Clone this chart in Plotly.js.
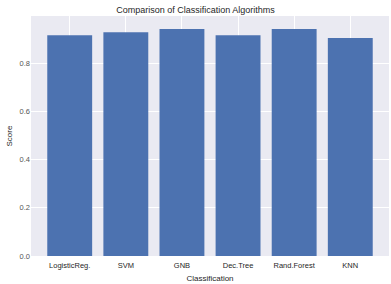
<!DOCTYPE html>
<html><head><meta charset="utf-8">
<script src="https://cdn.plot.ly/plotly-3.0.1.min.js"></script>
<style>html,body{margin:0;padding:0;background:#fff}#c{width:391px;height:284px}</style>
</head><body><div id="c"></div>
<script>
const categories = ["LogisticReg.", "SVM", "GNB", "Dec.Tree", "Rand.Forest", "KNN"];
const scores = [0.915, 0.928, 0.941, 0.915, 0.941, 0.904];
const yTicks = [0.0, 0.2, 0.4, 0.6, 0.8];
const yTickText = ["0.0", "0.2", "0.4", "0.6", "0.8"];

const font = {family: "Liberation Sans, Arial, sans-serif", color: "#262626"};
Plotly.newPlot("c", [{
  type: "bar", x: categories.map((_, i) => i), y: scores, width: 0.8,
  marker: {color: "#4C72B0", line: {width: 0}}, hoverinfo: "none"
}], {
  width: 391, height: 284,
  margin: {l: 31, r: 2, t: 16, b: 28, pad: 0},
  paper_bgcolor: "#ffffff", plot_bgcolor: "#EAEAF2",
  font: Object.assign({size: 8}, font),
  title: {text: "Comparison of Classification Algorithms", font: Object.assign({size: 9}, font), x: 0.5, xanchor: "center", y: 0.975, yanchor: "top", yref: "container"},
  xaxis: {range: [-0.69, 5.69], tickvals: categories.map((_, i) => i), ticktext: categories,
    showgrid: true, gridcolor: "#ffffff", gridwidth: 1, zeroline: false, showline: false,
    ticks: "", ticklabelstandoff: 3, tickfont: Object.assign({size: 7.5}, font),
    title: {text: "Classification", font: Object.assign({size: 8}, font), standoff: 6}},
  yaxis: {range: [0, 0.995], tickvals: yTicks, ticktext: yTickText,
    showgrid: true, gridcolor: "#ffffff", gridwidth: 1, zeroline: false, showline: false,
    ticks: "", ticklen: 0, tickfont: Object.assign({size: 7.5, color: "#555"}, {family: font.family}),
    title: {text: "Score", font: Object.assign({size: 8}, font), standoff: 5}},
  showlegend: false
}, {displayModeBar: false, staticPlot: true});
</script></body></html>
